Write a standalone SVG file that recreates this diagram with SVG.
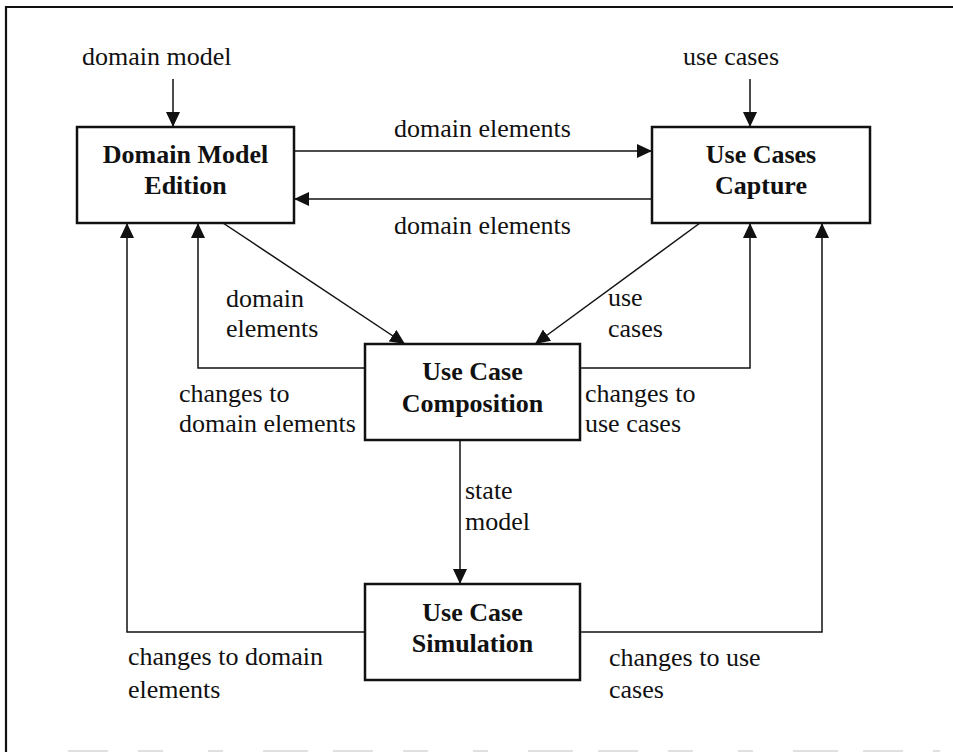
<svg xmlns="http://www.w3.org/2000/svg" width="953" height="752" viewBox="0 0 953 752">
  <style>
    .frame { stroke: #111; stroke-width: 2.2; fill: none; }
    .faint { stroke: #d6d6d6; stroke-width: 1.5; stroke-dasharray: 40 30 25 45 15 40 45 25; fill: none; }
    .box { fill: #fff; stroke: #111; stroke-width: 2.5; }
    .edge { fill: none; stroke: #111; stroke-width: 1.5; marker-end: url(#arrow); }
    .title { font-family: "Liberation Serif", "Times New Roman", serif; font-size: 26px; font-weight: bold; fill: #111; text-anchor: middle; }
    .label { font-family: "Liberation Serif", "Times New Roman", serif; font-size: 26px; fill: #111; }
  </style>
  <defs>
    <marker id="arrow" markerUnits="userSpaceOnUse" markerWidth="15" markerHeight="14" refX="15" refY="7" orient="auto">
      <path d="M0,0 L15,7 L0,14 z" fill="#111"/>
    </marker>
  </defs>

  <rect width="953" height="752" fill="#fff"/>

  <!-- frame -->
  <g id="frame">
    <line class="frame" x1="5" y1="7" x2="953" y2="7"/>
    <line class="frame" x1="6" y1="6" x2="6" y2="752"/>
    <line class="faint" x1="68" y1="751" x2="940" y2="751"/>
  </g>

  <!-- connectors -->
  <g id="connectors">
    <line class="edge" x1="173" y1="79" x2="173" y2="127"/>
    <line class="edge" x1="750" y1="79" x2="750" y2="127"/>
    <line class="edge" x1="294" y1="151" x2="652" y2="151"/>
    <line class="edge" x1="652" y1="199" x2="294" y2="199"/>
    <line class="edge" x1="223" y1="223" x2="405" y2="344"/>
    <line class="edge" x1="700" y1="223" x2="535" y2="344"/>
    <polyline class="edge" points="365,368 198,368 198,223"/>
    <polyline class="edge" points="580,368 750,368 750,223"/>
    <line class="edge" x1="460" y1="440" x2="460" y2="584"/>
    <polyline class="edge" points="365,632 127,632 127,223"/>
    <polyline class="edge" points="580,632 822,632 822,223"/>
  </g>

  <!-- connector labels -->
  <g id="labels">
    <text class="label" x="82" y="65">domain model</text>
    <text class="label" x="683" y="65">use cases</text>
    <text class="label" x="394" y="137">domain elements</text>
    <text class="label" x="394" y="234">domain elements</text>
    <text class="label" x="226" y="307">domain</text>
    <text class="label" x="226" y="337">elements</text>
    <text class="label" x="608" y="306">use</text>
    <text class="label" x="608" y="337">cases</text>
    <text class="label" x="179" y="402">changes to</text>
    <text class="label" x="179" y="432">domain elements</text>
    <text class="label" x="585" y="402">changes to</text>
    <text class="label" x="585" y="432">use cases</text>
    <text class="label" x="465" y="499">state</text>
    <text class="label" x="465" y="530">model</text>
    <text class="label" x="128" y="665">changes to domain</text>
    <text class="label" x="128" y="698">elements</text>
    <text class="label" x="609" y="666">changes to use</text>
    <text class="label" x="609" y="698">cases</text>
  </g>

  <g id="domain-model-edition">
    <rect class="box" x="77" y="127" width="217" height="96"/>
    <text class="title" x="185.5" y="163">Domain Model</text>
    <text class="title" x="185.5" y="194">Edition</text>
  </g>

  <g id="use-cases-capture">
    <rect class="box" x="652" y="127" width="218" height="96"/>
    <text class="title" x="761" y="163">Use Cases</text>
    <text class="title" x="761" y="194">Capture</text>
  </g>

  <g id="use-case-composition">
    <rect class="box" x="365" y="344" width="215" height="96"/>
    <text class="title" x="472.5" y="380">Use Case</text>
    <text class="title" x="472.5" y="412">Composition</text>
  </g>

  <g id="use-case-simulation">
    <rect class="box" x="365" y="584" width="215" height="96"/>
    <text class="title" x="472.5" y="621">Use Case</text>
    <text class="title" x="472.5" y="652">Simulation</text>
  </g>
</svg>
